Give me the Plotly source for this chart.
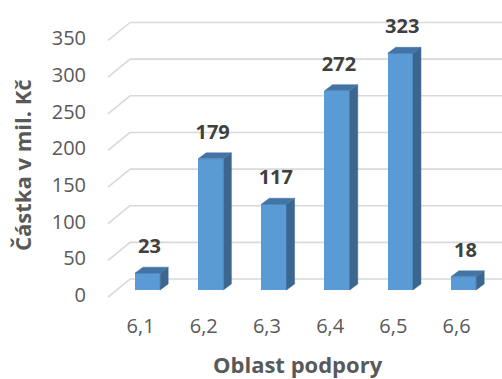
import plotly.graph_objects as go

# Funding amounts by support area (CZK millions)
categories = ["6,1", "6,2", "6,3", "6,4", "6,5", "6,6"]
values = [23, 179, 117, 272, 323, 18]
y_ticks = [0, 50, 100, 150, 200, 250, 300, 350]

x_title = "Oblast podpory"
y_title = "Částka v mil. Kč"

FONT = "Open Sans"
TICK_COLOR = "#595959"
LABEL_COLOR = "#404040"
GRID_COLOR = "#D9D9D9"
FRONT = "#5B9BD5"
SIDE = "#3B6690"
TOP = "#4374A6"

# pseudo-3D geometry in data units
BAR_W = 0.40
DEPTH_X = 0.127
DEPTH_Y = 8.2
FLOOR_FRONT = (-0.625, -9.55)
FLOOR_BACK = (-0.277, 15.0)
X_RANGE = [-2.334, 5.609]
Y_RANGE = [-121.4, 395.7]
LABEL_GAP = 26

fig = go.Figure()

# gridlines behind the bars: diagonal on the side wall plus the back-wall line
for v in y_ticks:
    fig.add_shape(type="line", layer="below",
                  x0=FLOOR_FRONT[0], y0=v + FLOOR_FRONT[1],
                  x1=FLOOR_BACK[0], y1=v + FLOOR_BACK[1],
                  line=dict(color=GRID_COLOR, width=1.6))
    fig.add_shape(type="line", layer="below",
                  x0=FLOOR_BACK[0], y0=v + FLOOR_BACK[1],
                  x1=X_RANGE[1] + 1, y1=v + FLOOR_BACK[1],
                  line=dict(color=GRID_COLOR, width=1.6))

xs = list(range(len(categories)))

# front faces
fig.add_trace(go.Bar(
    x=xs, y=values, width=BAR_W,
    marker=dict(color=FRONT, line=dict(width=0)),
    hoverinfo="skip", showlegend=False))

# side and top faces of each bar
for i, v in zip(xs, values):
    r = i + BAR_W / 2
    l = i - BAR_W / 2
    fig.add_trace(go.Scatter(
        x=[r, r + DEPTH_X, r + DEPTH_X, r, r],
        y=[0, DEPTH_Y, v + DEPTH_Y, v, 0],
        fill="toself", fillcolor=SIDE, mode="lines",
        line=dict(color=SIDE, width=0.5),
        hoverinfo="skip", showlegend=False))
    fig.add_trace(go.Scatter(
        x=[l, l + DEPTH_X, r + DEPTH_X, r, l],
        y=[v, v + DEPTH_Y, v + DEPTH_Y, v, v],
        fill="toself", fillcolor=TOP, mode="lines",
        line=dict(color=TOP, width=0.5),
        hoverinfo="skip", showlegend=False))

# value labels above the bars
fig.add_trace(go.Scatter(
    x=[i + 0.03 for i in xs],
    y=[v + DEPTH_Y + LABEL_GAP for v in values],
    mode="text", text=[str(v) for v in values],
    textposition="middle center",
    textfont=dict(family=FONT, size=20, color=LABEL_COLOR, weight="bold"),
    hoverinfo="skip", showlegend=False))

# value-axis tick labels at the front of the side wall
fig.add_trace(go.Scatter(
    x=[-0.973] * len(y_ticks),
    y=[v + FLOOR_FRONT[1] for v in y_ticks],
    mode="text", text=[str(v) for v in y_ticks],
    textposition="middle left",
    textfont=dict(family=FONT, size=20, color=TICK_COLOR),
    hoverinfo="skip", showlegend=False))

# category labels under the floor
fig.add_trace(go.Scatter(
    x=[i - 0.11 for i in xs],
    y=[-51.8] * len(xs),
    mode="text", text=categories,
    textposition="middle center",
    textfont=dict(family=FONT, size=20, color=TICK_COLOR),
    hoverinfo="skip", showlegend=False))

fig.add_annotation(
    text=x_title, xref="paper", yref="paper",
    x=298 / 502, y=1 - 364 / 379, xanchor="center", yanchor="middle",
    showarrow=False,
    font=dict(family=FONT, size=22, color=TICK_COLOR, weight="bold"))
fig.add_annotation(
    text=y_title, xref="paper", yref="paper",
    x=22 / 502, y=1 - 165 / 379, xanchor="center", yanchor="middle",
    showarrow=False, textangle=-90,
    font=dict(family=FONT, size=22, color=TICK_COLOR, weight="bold"))

fig.update_layout(
    width=502, height=379,
    margin=dict(l=0, r=0, t=0, b=0),
    paper_bgcolor="white", plot_bgcolor="white",
    bargap=0,
    xaxis=dict(range=X_RANGE, visible=False, fixedrange=True),
    yaxis=dict(range=Y_RANGE, visible=False, fixedrange=True),
)

fig.write_html("out.html")
